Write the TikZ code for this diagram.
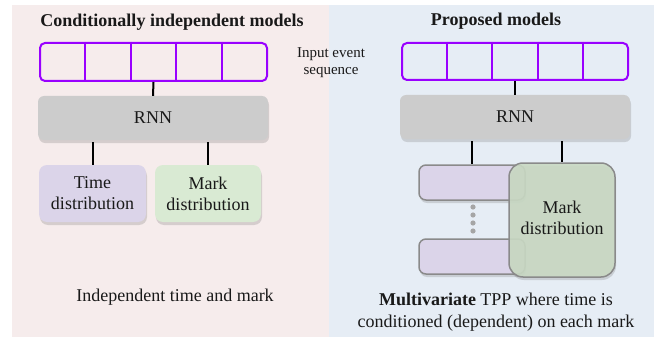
\documentclass[tikz,border=0pt]{standalone}
\usepackage{fontspec}
\setmainfont{Liberation Serif}
\usetikzlibrary{shadows,calc}
\definecolor{pinkbg}{RGB}{246,236,236}
\definecolor{bluebg}{RGB}{230,237,245}
\definecolor{seqpurple}{RGB}{153,0,255}
\definecolor{rnngray}{RGB}{204,204,204}
\definecolor{lav}{RGB}{219,212,233}
\definecolor{lgreen}{RGB}{217,234,211}
\definecolor{dgreen}{RGB}{201,217,195}
\definecolor{bordergray}{RGB}{138,138,138}
\definecolor{dotgray}{RGB}{165,165,165}
\tikzset{
  txt/.style={font=\fontsize{18}{21}\selectfont, text=black!90, inner sep=0pt},
  smalltxt/.style={font=\fontsize{15}{17}\selectfont, text=black!90, inner sep=0pt, align=center},
  seqbox/.style={draw=seqpurple, line width=2pt, rounded corners=5pt, inner sep=0pt},
  seqdiv/.style={draw=seqpurple, line width=2pt},
  softshadow/.style={drop shadow={opacity=0.28, shadow xshift=1pt, shadow yshift=-3pt}},
  rnnbox/.style={fill=rnngray, rounded corners=6pt, softshadow, inner sep=0pt, txt},
  distbox/.style={rounded corners=8pt, softshadow, inner sep=0pt, txt, align=center},
  conn/.style={draw=black, line width=2pt},
  tdbox/.style={fill=lav, draw=bordergray, line width=1.5pt, rounded corners=7pt, inner sep=0pt, softshadow},
}
\begin{document}
\begin{tikzpicture}[x=1pt,y=-1pt]
\useasboundingbox (0,0) rectangle (654,337);
% panels
\fill[pinkbg] (12,5) rectangle (329,337);
\fill[bluebg] (329,5) rectangle (654,337);

% ---------- left ----------
\node[txt, font=\fontsize{18}{21}\selectfont\bfseries] (titleL) at (172,22) {Conditionally independent models};
\node[seqbox, minimum width=227pt, minimum height=38pt] (seqL) at (153.5,62) {};
\foreach \i in {1,2,3,4}{
  \draw[seqdiv] ($(seqL.north west)!\i/5!(seqL.north east)$) -- ($(seqL.south west)!\i/5!(seqL.south east)$);
}
\node[rnnbox, minimum width=230pt, minimum height=44pt] (rnnL) at (153,118) {RNN};
\node[distbox, fill=lav, minimum width=107pt, minimum height=57pt] (timeL) at (92.5,193.5) {Time\\distribution};
\node[distbox, fill=lgreen, minimum width=106pt, minimum height=57pt] (markL) at (208,193.5) {Mark\\distribution};
\draw[conn] (seqL.south) -- (rnnL.north);
\draw[conn] (timeL.north |- rnnL.south) ++(0,2) -- (timeL.north);
\draw[conn] (markL.north |- rnnL.south) ++(0,2) -- (markL.north);
\node[txt] (capL) at (175,297) {Independent time and mark};

% middle label
\node[smalltxt] (inlab) at (331,63) {Input event\\sequence};

% ---------- right ----------
\node[txt, font=\fontsize{18}{21}\selectfont\bfseries] (titleR) at (496,21) {Proposed models};
\node[seqbox, minimum width=226pt, minimum height=37pt] (seqR) at (515,61.5) {};
\foreach \i in {1,2,3,4}{
  \draw[seqdiv] ($(seqR.north west)!\i/5!(seqR.north east)$) -- ($(seqR.south west)!\i/5!(seqR.south east)$);
}
\node[rnnbox, minimum width=230pt, minimum height=44pt] (rnnR) at (515,117) {RNN};
\node[tdbox, minimum width=106pt, minimum height=35pt] (timeR1) at (472,182.5) {};
\node[tdbox, minimum width=106pt, minimum height=35pt] (timeR2) at (472,256.5) {};
\foreach \yy in {207,215,223,231}{
  \fill[dotgray] (473,\yy) circle (2.6pt);
}
\node[distbox, fill=dgreen, fill opacity=0.9, text opacity=1, draw=bordergray, line width=1.5pt, rounded corners=14pt, minimum width=106pt, minimum height=114pt] (markR) at (562,220) {\raisebox{4pt}{\begin{tabular}{@{}c@{}}Mark\\distribution\end{tabular}}};
\draw[conn] (timeR1.north |- rnnR.south) ++(0,2) -- (timeR1.north);
\draw[conn] (markR.north |- rnnR.south) ++(0,2) -- (markR.north);
\draw[conn] (seqR.south) -- (rnnR.north);
\node[txt, align=center, font=\fontsize{18}{22}\selectfont] (capR) at (496,312) {\textbf{Multivariate} TPP where time is\\conditioned (dependent) on each mark};
\end{tikzpicture}
\end{document}
